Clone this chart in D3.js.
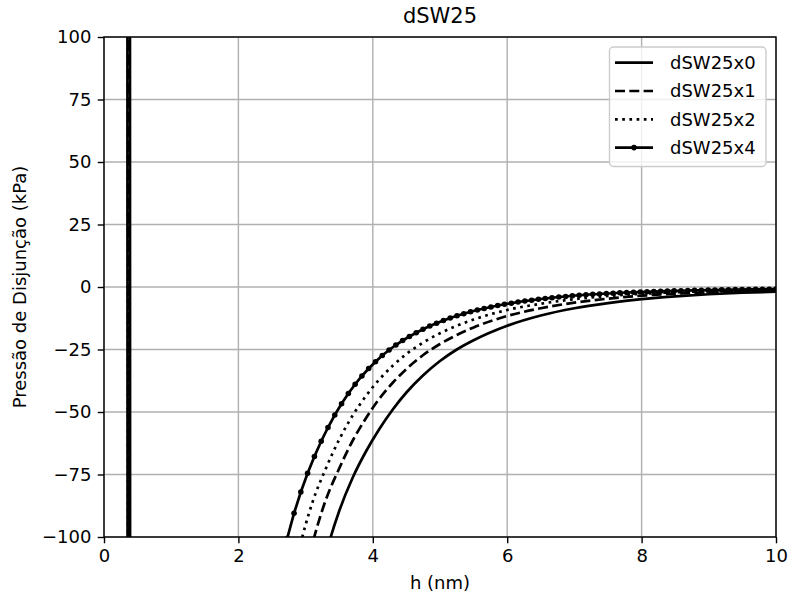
<!DOCTYPE html>
<html><head><meta charset="utf-8">
<script src="https://cdn.jsdelivr.net/npm/d3@7"></script>
<style>
body{margin:0;background:#fff;}
text{font-family:"DejaVu Sans",sans-serif;fill:#000;}
</style></head><body>
<svg id="chart" width="788" height="599"></svg>
<script>
// ---- data ----
const chartTitle = "dSW25";
const xLabel = "h (nm)";
const yLabel = "Pressão de Disjunção (kPa)";
const xTicks = [0, 2, 4, 6, 8, 10];
const yTicks = [-100, -75, -50, -25, 0, 25, 50, 75, 100];
const seriesNames = ["dSW25x0", "dSW25x1", "dSW25x2", "dSW25x4"];

// h grid of the smooth curves (x0, x1, x2)
const hLine = [0.303, 0.404, 1.0, 2.0, 2.5, 2.7, 2.9, 3.1, 3.3, 3.5, 3.7, 3.9, 4.1, 4.3, 4.5, 4.75, 5.0, 5.25, 5.5, 6.0, 6.5, 7.0, 7.5, 8.0, 8.5, 9.0, 9.5, 10.0];
const dSW25x0 = [10000, -2000, -900, -480, -246, -195, -157.6, -129, -106.9, -89.6, -76.3, -65.7, -56.7, -48.9, -42.2, -35.3, -29.6, -25.0, -21.3, -15.5, -11.4, -8.5, -6.45, -4.85, -3.75, -2.9, -2.3, -1.88];
const dSW25x1 = [10000, -3000, -1500, -383, -196, -155.6, -125.5, -102.8, -85.2, -72.6, -61.5, -52.4, -44.6, -38.2, -32.8, -27.2, -22.8, -19.2, -16.2, -11.6, -8.5, -6.25, -4.65, -3.47, -2.7, -2.12, -1.69, -1.38];
const dSW25x2 = [10000, -4000, -2570, -321, -164, -130.6, -105.4, -86.3, -72.7, -61.0, -51.4, -43.5, -36.9, -31.4, -26.8, -22.2, -18.5, -15.5, -13.0, -9.2, -6.7, -4.85, -3.6, -2.73, -2.1, -1.65, -1.35, -1.12];

// h grid of the marked curve (x4)
const hMark = [0.303, 0.404, 0.505, 0.606, 0.707, 0.808, 0.909, 1.010, 1.111, 1.212, 1.313, 1.414, 1.515, 1.616, 1.717, 1.818, 1.919, 2.020, 2.121, 2.222, 2.323, 2.424, 2.525, 2.626, 2.727, 2.828, 2.929, 3.030, 3.131, 3.232, 3.333, 3.434, 3.535, 3.636, 3.737, 3.838, 3.939, 4.040, 4.141, 4.242, 4.343, 4.444, 4.545, 4.646, 4.747, 4.848, 4.949, 5.051, 5.152, 5.253, 5.354, 5.455, 5.556, 5.657, 5.758, 5.859, 5.960, 6.061, 6.162, 6.263, 6.364, 6.465, 6.566, 6.667, 6.768, 6.869, 6.970, 7.071, 7.172, 7.273, 7.374, 7.475, 7.576, 7.677, 7.778, 7.879, 7.980, 8.081, 8.182, 8.283, 8.384, 8.485, 8.586, 8.687, 8.788, 8.889, 8.990, 9.091, 9.192, 9.293, 9.394, 9.495, 9.596, 9.697, 9.798, 9.899, 10.000];
const dSW25x4 = [4650, -5350, -7200, -5000, -3600, -2700, -2050, -1600, -1300, -1050, -860, -710, -590, -485, -405, -340, -290, -248, -214, -186, -163, -143, -127, -112.6, -100.5, -90.5, -82, -74.5, -67.8, -61.7, -56.2, -51.2, -46.7, -42.6, -38.9, -35.6, -32.6, -29.9, -27.4, -25.2, -23.2, -21.4, -19.8, -18.3, -16.9, -15.6, -14.5, -13.4, -12.4, -11.5, -10.7, -9.9, -9.2, -8.6, -8.0, -7.4, -6.9, -6.5, -6.0, -5.6, -5.3, -4.9, -4.6, -4.3, -4.0, -3.8, -3.5, -3.3, -3.1, -2.9, -2.8, -2.6, -2.5, -2.3, -2.2, -2.1, -2.0, -1.9, -1.8, -1.7, -1.6, -1.55, -1.5, -1.4, -1.35, -1.3, -1.25, -1.2, -1.15, -1.1, -1.05, -1.0, -0.97, -0.93, -0.9, -0.87, -0.85];

// ---- layout ----
const L = 104, R = 776, T = 37, B = 537;
const FS = 18, TFS = 21;
const LW = 2.7, TICK = 6.3, PAD = 6.3;

const svg = d3.select("#chart");
const x = d3.scaleLinear().domain([0, 10]).range([L, R]);
const y = d3.scaleLinear().domain([-100, 100]).range([B, T]);
const fmt = d => d < 0 ? "\u2212" + Math.abs(d) : String(d);

svg.append("defs").append("clipPath").attr("id", "clip")
  .append("rect").attr("x", L).attr("y", T).attr("width", R - L).attr("height", B - T);

// grid
const grid = svg.append("g").attr("stroke", "#b0b0b0").attr("stroke-width", 1.4);
grid.selectAll(".gx").data(xTicks).join("line")
  .attr("x1", d => x(d)).attr("x2", d => x(d)).attr("y1", T).attr("y2", B);
grid.selectAll(".gy").data(yTicks).join("line")
  .attr("y1", d => y(d)).attr("y2", d => y(d)).attr("x1", L).attr("x2", R);

// curves
const plot = svg.append("g").attr("clip-path", "url(#clip)");
const smooth = d3.line().x(d => x(d[0])).y(d => y(d[1])).curve(d3.curveMonotoneX);
const straight = d3.line().x(d => x(d[0])).y(d => y(d[1]));
const styles = [
  {name: seriesNames[0], dash: null},
  {name: seriesNames[1], dash: "10,4.3"},
  {name: seriesNames[2], dash: "2.7,4.5"},
  {name: seriesNames[3], dash: null, marker: true}
];
[dSW25x0, dSW25x1, dSW25x2].forEach((vals, i) => {
  plot.append("path").datum(hLine.map((h, j) => [h, vals[j]]))
    .attr("d", smooth).attr("fill", "none").attr("stroke", "#000")
    .attr("stroke-width", LW).attr("stroke-dasharray", styles[i].dash);
});
const pts4 = hMark.map((h, j) => [h, dSW25x4[j]]);
plot.append("path").datum(pts4).attr("d", straight).attr("fill", "none")
  .attr("stroke", "#000").attr("stroke-width", LW);
plot.selectAll(".mk").data(pts4).join("circle")
  .attr("cx", d => x(d[0])).attr("cy", d => y(d[1])).attr("r", 2.8).attr("fill", "#000");

// spines
svg.append("rect").attr("x", L).attr("y", T).attr("width", R - L).attr("height", B - T)
  .attr("fill", "none").attr("stroke", "#000").attr("stroke-width", 1.4);

// axes
const ax = svg.append("g").attr("transform", `translate(0,${B})`)
  .call(d3.axisBottom(x).tickValues(xTicks).tickFormat(fmt).tickSize(TICK).tickPadding(PAD));
const ay = svg.append("g").attr("transform", `translate(${L},0)`)
  .call(d3.axisLeft(y).tickValues(yTicks).tickFormat(fmt).tickSize(TICK).tickPadding(PAD));
[ax, ay].forEach(g => {
  g.select(".domain").remove();
  g.selectAll("line").attr("stroke", "#000").attr("stroke-width", 1.4);
  g.selectAll("text").attr("font-family", "DejaVu Sans").attr("font-size", FS).attr("fill", "#000");
});

// labels
svg.append("text").attr("x", (L + R) / 2).attr("y", 23).attr("text-anchor", "middle")
  .attr("font-size", TFS).text(chartTitle);
svg.append("text").attr("x", (L + R) / 2).attr("y", 589).attr("text-anchor", "middle")
  .attr("font-size", FS).text(xLabel);
svg.append("text").attr("transform", `translate(26,${(T + B) / 2}) rotate(-90)`)
  .attr("text-anchor", "middle").attr("font-size", FS).text(yLabel);

// legend
const lg = svg.append("g");
lg.append("rect").attr("x", 609.5).attr("y", 47).attr("width", 156.5).attr("height", 119.5)
  .attr("rx", 4).attr("fill", "#fff").attr("fill-opacity", 0.8)
  .attr("stroke", "#cccccc").attr("stroke-width", 1.4);
styles.forEach((s, i) => {
  const cy = 62.7 + i * 28.3;
  lg.append("line").attr("x1", 615).attr("x2", 653).attr("y1", cy).attr("y2", cy)
    .attr("stroke", "#000").attr("stroke-width", LW).attr("stroke-dasharray", s.dash);
  if (s.marker) lg.append("circle").attr("cx", 634).attr("cy", cy).attr("r", 2.8).attr("fill", "#000");
  lg.append("text").attr("x", 670).attr("y", cy).attr("dy", "0.36em")
    .attr("font-size", FS).text(s.name);
});
</script>
</body></html>
